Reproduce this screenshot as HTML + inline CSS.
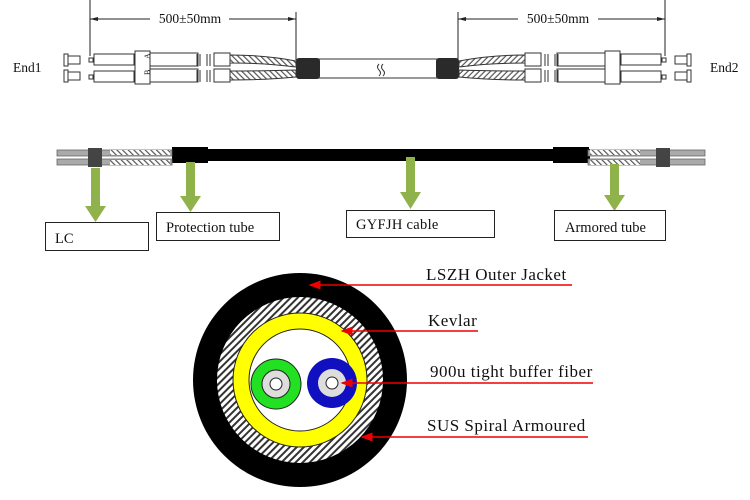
<!DOCTYPE html>
<html><head><meta charset="utf-8"><style>
html,body{margin:0;padding:0;background:#fff;}
svg{display:block;}
text{font-family:"Liberation Serif",serif;fill:#111;}
</style></head><body>
<svg width="750" height="500" viewBox="0 0 750 500" xmlns="http://www.w3.org/2000/svg">
<defs>
<pattern id="h" width="5" height="5" patternUnits="userSpaceOnUse" patternTransform="rotate(45)">
<rect width="5" height="5" fill="#fff"/><rect width="2" height="5" fill="#333"/>
</pattern>
<pattern id="h2" width="4" height="4" patternUnits="userSpaceOnUse" patternTransform="rotate(-45)">
<rect width="4" height="4" fill="#fff"/><rect width="1.2" height="4" fill="#555"/>
</pattern>
<marker id="ra" markerWidth="8" markerHeight="6" refX="1" refY="3" orient="auto"><path d="M8,0 L0,3 L8,6z" fill="#e00"/></marker>
</defs>

<g stroke="#222" stroke-width="1" fill="none">
<line x1="90" y1="0" x2="90" y2="56"/>
<line x1="296" y1="12" x2="296" y2="60"/>
<line x1="90" y1="19" x2="150" y2="19"/><line x1="229" y1="19" x2="296" y2="19"/>
<line x1="458" y1="12" x2="458" y2="60"/>
<line x1="665" y1="0" x2="665" y2="56"/>
<line x1="458" y1="19" x2="518" y2="19"/><line x1="598" y1="19" x2="665" y2="19"/>
</g>
<path d="M90,19 l8,-2 v4z M296,19 l-8,-2 v4z M458,19 l8,-2 v4z M665,19 l-8,-2 v4z" fill="#222"/>
<text x="190" y="23" font-size="13.5" text-anchor="middle">500±50mm</text>
<text x="558" y="23" font-size="13.5" text-anchor="middle">500±50mm</text>
<text x="13" y="72" font-size="13.5">End1</text>
<text x="710" y="72" font-size="13.5">End2</text>

<g stroke="#333" fill="none" stroke-width="1">
<line x1="318" y1="59" x2="440" y2="59"/><line x1="318" y1="78" x2="440" y2="78"/>
<path d="M379,64 q-3,3 0,6 q3,3 0,6 M383,64 q-3,3 0,6 q3,3 0,6"/>
</g>
<rect x="296" y="58" width="24" height="21" rx="3" fill="#2a2a2a"/>
<rect x="436" y="58" width="23" height="21" rx="3" fill="#2a2a2a"/>

<g stroke="#333" stroke-width="1">
<rect x="64" y="54" width="4" height="12" fill="#fff"/><rect x="68" y="56" width="12" height="8" fill="#fff"/>
<rect x="64" y="70" width="4" height="12" fill="#fff"/><rect x="68" y="72" width="12" height="8" fill="#fff"/>
<rect x="89" y="58" width="4" height="4" fill="#fff"/><rect x="89" y="75" width="4" height="4" fill="#fff"/>
<rect x="94" y="54" width="40" height="11" fill="#fff"/><rect x="94" y="71" width="40" height="11" fill="#fff"/>
<rect x="135" y="51" width="15" height="33" fill="#fff"/>
<rect x="150" y="53" width="48" height="13" fill="#fff"/><rect x="150" y="69" width="48" height="13" fill="#fff"/>
<path d="M197,54 v12 M200,54 v12 M207,54 v12 M210,54 v12 M197,70 v12 M200,70 v12 M207,70 v12 M210,70 v12" fill="none"/>
<rect x="214" y="53" width="16" height="13" fill="#fff"/><rect x="214" y="69" width="16" height="13" fill="#fff"/>
<path d="M230,55 Q265,55 296,61 L296,67 Q265,63 230,63z" fill="url(#h2)"/>
<path d="M230,71 Q265,71 296,70 L296,77 Q265,80 230,80z" fill="url(#h2)"/>
</g>
<text x="146" y="63" font-size="8" transform="rotate(-90 146 59)">A</text>
<text x="146" y="79" font-size="8" transform="rotate(-90 146 75)">B</text>

<g transform="translate(755,0) scale(-1,1)" stroke="#333" stroke-width="1">
<rect x="64" y="54" width="4" height="12" fill="#fff"/><rect x="68" y="56" width="12" height="8" fill="#fff"/>
<rect x="64" y="70" width="4" height="12" fill="#fff"/><rect x="68" y="72" width="12" height="8" fill="#fff"/>
<rect x="89" y="58" width="4" height="4" fill="#fff"/><rect x="89" y="75" width="4" height="4" fill="#fff"/>
<rect x="94" y="54" width="40" height="11" fill="#fff"/><rect x="94" y="71" width="40" height="11" fill="#fff"/>
<rect x="135" y="51" width="15" height="33" fill="#fff"/>
<rect x="150" y="53" width="48" height="13" fill="#fff"/><rect x="150" y="69" width="48" height="13" fill="#fff"/>
<path d="M197,54 v12 M200,54 v12 M207,54 v12 M210,54 v12 M197,70 v12 M200,70 v12 M207,70 v12 M210,70 v12" fill="none"/>
<rect x="214" y="53" width="16" height="13" fill="#fff"/><rect x="214" y="69" width="16" height="13" fill="#fff"/>
<path d="M230,55 Q265,55 296,61 L296,67 Q265,63 230,63z" fill="url(#h2)"/>
<path d="M230,71 Q265,71 296,70 L296,77 Q265,80 230,80z" fill="url(#h2)"/>
</g>

<rect x="172" y="149" width="418" height="12" fill="#000"/>
<rect x="172" y="147" width="36" height="16" fill="#000"/>
<rect x="553" y="147" width="36" height="16" fill="#000"/>
<g fill="#aaa" stroke="#666" stroke-width="0.8">
<rect x="57" y="150" width="115" height="6"/><rect x="57" y="159" width="115" height="6"/>
<rect x="588" y="150" width="117" height="6"/><rect x="588" y="159" width="117" height="6"/>
</g>
<rect x="88" y="148" width="14" height="19" fill="#444"/>
<rect x="656" y="148" width="14" height="19" fill="#444"/>
<g fill="url(#h2)"><rect x="110" y="150" width="60" height="5"/><rect x="110" y="160" width="60" height="5"/>
<rect x="590" y="150" width="50" height="5"/><rect x="590" y="160" width="50" height="5"/></g>

<g fill="#8fb24a">
<rect x="91" y="168" width="9" height="40"/><path d="M85,206 h21 l-10.5,16z"/>
<rect x="186" y="162" width="9" height="36"/><path d="M180,196 h21 l-10.5,16z"/>
<rect x="406" y="157" width="9" height="37"/><path d="M400,192 h21 l-10.5,17z"/>
<rect x="610" y="164" width="9" height="33"/><path d="M604,195 h21 l-10.5,16z"/>
</g>
<g fill="#fff" stroke="#222" stroke-width="1">
<rect x="45.5" y="222.5" width="103" height="28"/>
<rect x="156.5" y="212.5" width="123" height="28"/>
<rect x="346.5" y="210.5" width="148" height="27"/>
<rect x="554.5" y="210.5" width="111" height="30"/>
</g>
<text x="55" y="243" font-size="14.5">LC</text>
<text x="166" y="232" font-size="14.5">Protection tube</text>
<text x="356" y="229" font-size="14.5" letter-spacing="0.3">GYFJH  cable</text>
<text x="565" y="232" font-size="14.5">Armored tube</text>

<circle cx="300" cy="380" r="107" fill="#000"/>
<circle cx="300" cy="380" r="83" fill="url(#h)"/>
<circle cx="300" cy="380" r="67" fill="#ffff00" stroke="#222" stroke-width="1"/>
<circle cx="300" cy="380" r="51" fill="#fff" stroke="#222" stroke-width="1"/>
<circle cx="276" cy="384" r="25" fill="#22e022" stroke="#222"/>
<circle cx="276" cy="384" r="14" fill="#ddd" stroke="#222"/>
<circle cx="276" cy="384" r="6" fill="#fff" stroke="#222"/>
<circle cx="332" cy="383" r="25" fill="#1010c0"/>
<circle cx="332" cy="383" r="14" fill="#ddd"/>
<circle cx="332" cy="383" r="6" fill="#fff" stroke="#222"/>

<g stroke="#e00" stroke-width="1.5" marker-start="url(#ra)">
<line x1="310" y1="285" x2="572" y2="285"/>
<line x1="342" y1="331" x2="478" y2="331"/>
<line x1="342" y1="383" x2="593" y2="383"/>
<line x1="362" y1="437" x2="588" y2="437"/>
</g>
<text x="426" y="280" font-size="17" letter-spacing="0.5">LSZH  Outer Jacket</text>
<text x="428" y="326" font-size="17" letter-spacing="0.5">Kevlar</text>
<text x="430" y="377" font-size="17" letter-spacing="0.5">900u tight buffer fiber</text>
<text x="427" y="431" font-size="17" letter-spacing="0.5">SUS Spiral Armoured</text>
</svg>
</body></html>
